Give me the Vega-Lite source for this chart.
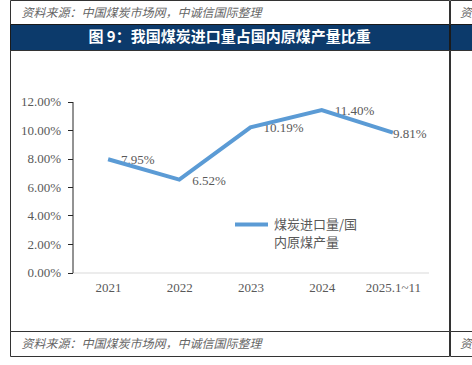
{
  "$schema": "https://vega.github.io/schema/vega-lite/v6.json",
  "padding": {"left": 9, "top": -1, "right": 0, "bottom": 0},
  "background": "white",
  "spacing": -1,
  "config": {"concat": {"spacing": 0}, "view": {"stroke": "#333333", "strokeWidth": 1}, "style": {"guide-label": {"lineHeight": 18}}},
  "datasets": {
    "note": [{"note": "资料来源：中国煤炭市场网，中诚信国际整理"}],
    "banner": [{"title": "图 9：我国煤炭进口量占国内原煤产量比重"}],
    "blank": [{"blank": ""}],
    "ratio": [
      {"period": "2021", "value": 0.0795, "series": "煤炭进口量/国内原煤产量"},
      {"period": "2022", "value": 0.0652, "series": "煤炭进口量/国内原煤产量"},
      {"period": "2023", "value": 0.1019, "series": "煤炭进口量/国内原煤产量"},
      {"period": "2024", "value": 0.1140, "series": "煤炭进口量/国内原煤产量"},
      {"period": "2025.1~11", "value": 0.0981, "series": "煤炭进口量/国内原煤产量"}
    ]
  },
  "hconcat": [
    {
      "spacing": 0,
      "bounds": "flush",
      "vconcat": [
        {
          "width": 439, "height": 24,
          "view": {"stroke": "#333333"},
          "data": {"name": "note"},
          "mark": {"type": "text", "align": "left", "dx": -208, "dy": 1, "font": "Noto Sans CJK SC", "fontSize": 12, "fontStyle": "italic", "color": "#666666"},
          "encoding": {"text": {"field": "note"}}
        },
        {
          "width": 439, "height": 26,
          "view": {"fill": "#0c3a6b", "stroke": "#1a1a1a"},
          "data": {"name": "banner"},
          "mark": {"type": "text", "font": "Noto Sans CJK SC", "fontSize": 15, "fontWeight": "bold", "color": "#ffffff"},
          "encoding": {"text": {"field": "title"}}
        },
        {
          "width": 439, "height": 281,
          "view": {"stroke": "#333333"},
          "data": {"name": "ratio"},
          "encoding": {
            "x": {
              "field": "period", "type": "nominal", "sort": null,
              "scale": {"domain": ["2021", "2022", "2023", "2024", "2025.1~11"], "range": [62.5, 418.5], "padding": 0.5},
              "axis": {"title": null, "domainColor": "#d9d9d9", "ticks": false, "labelPadding": 9, "labelFont": "Liberation Serif", "labelFontSize": 13, "labelColor": "#595959", "labelAngle": 0, "offset": -58.5, "grid": false}
            },
            "y": {
              "field": "value", "type": "quantitative",
              "scale": {"domain": [0, 0.12], "range": [222.5, 51.5], "nice": false},
              "axis": {"title": null, "values": [0, 0.02, 0.04, 0.06, 0.08, 0.1, 0.12], "format": ".2%", "domainColor": "#262626", "tickColor": "#262626", "tickSize": 5, "labelPadding": 7, "labelFont": "Liberation Serif", "labelFontSize": 13, "labelColor": "#595959", "offset": -62.5, "grid": false}
            }
          },
          "layer": [
            {
              "transform": [{"filter": "datum.period !== '2025.1~11'"}],
              "mark": {"type": "text", "align": "left", "dx": 13, "dy": 1, "font": "Liberation Serif", "fontSize": 13, "color": "#595959"},
              "encoding": {"text": {"field": "value", "type": "quantitative", "format": ".2%"}}
            },
            {
              "transform": [{"filter": "datum.period === '2025.1~11'"}],
              "mark": {"type": "text", "align": "left", "dx": 0, "dy": 1, "font": "Liberation Serif", "fontSize": 13, "color": "#595959"},
              "encoding": {"text": {"field": "value", "type": "quantitative", "format": ".2%"}}
            },
            {
              "mark": {"type": "line", "strokeWidth": 4},
              "encoding": {
                "color": {
                  "field": "series", "type": "nominal",
                  "scale": {"range": ["#5b9bd5"]},
                  "legend": {"title": null, "orient": "none", "legendX": 223, "legendY": 206, "padding": 0, "symbolType": "stroke", "symbolSize": 1089, "symbolStrokeWidth": 4, "labelOffset": 4, "labelFont": "Noto Sans CJK SC", "labelFontSize": 13, "labelColor": "#595959", "labelLimit": 300, "labelExpr": "[substring(datum.label, 0, 7), substring(datum.label, 7)]"}
                }
              }
            }
          ]
        },
        {
          "width": 439, "height": 25,
          "view": {"stroke": "#333333"},
          "data": {"name": "note"},
          "mark": {"type": "text", "align": "left", "dx": -208, "dy": 0, "font": "Noto Sans CJK SC", "fontSize": 12, "fontStyle": "italic", "color": "#666666"},
          "encoding": {"text": {"field": "note"}}
        }
      ]
    },
    {
      "spacing": 0,
      "bounds": "flush",
      "vconcat": [
        {
          "width": 24, "height": 24,
          "view": {"stroke": "#333333"},
          "data": {"name": "note"},
          "mark": {"type": "text", "align": "left", "dx": -2, "dy": 1, "clip": true, "font": "Noto Sans CJK SC", "fontSize": 12, "fontStyle": "italic", "color": "#666666"},
          "encoding": {"text": {"field": "note"}}
        },
        {
          "width": 24, "height": 26,
          "view": {"fill": "#0c3a6b", "stroke": "#1a1a1a"},
          "data": {"name": "blank"},
          "mark": {"type": "text"},
          "encoding": {"text": {"field": "blank"}}
        },
        {
          "width": 24, "height": 281,
          "view": {"stroke": "#333333"},
          "data": {"name": "blank"},
          "mark": {"type": "text"},
          "encoding": {"text": {"field": "blank"}}
        },
        {
          "width": 24, "height": 25,
          "view": {"stroke": "#333333"},
          "data": {"name": "note"},
          "mark": {"type": "text", "align": "left", "dx": -2, "dy": 0, "clip": true, "font": "Noto Sans CJK SC", "fontSize": 12, "fontStyle": "italic", "color": "#666666"},
          "encoding": {"text": {"field": "note"}}
        }
      ]
    }
  ]
}
